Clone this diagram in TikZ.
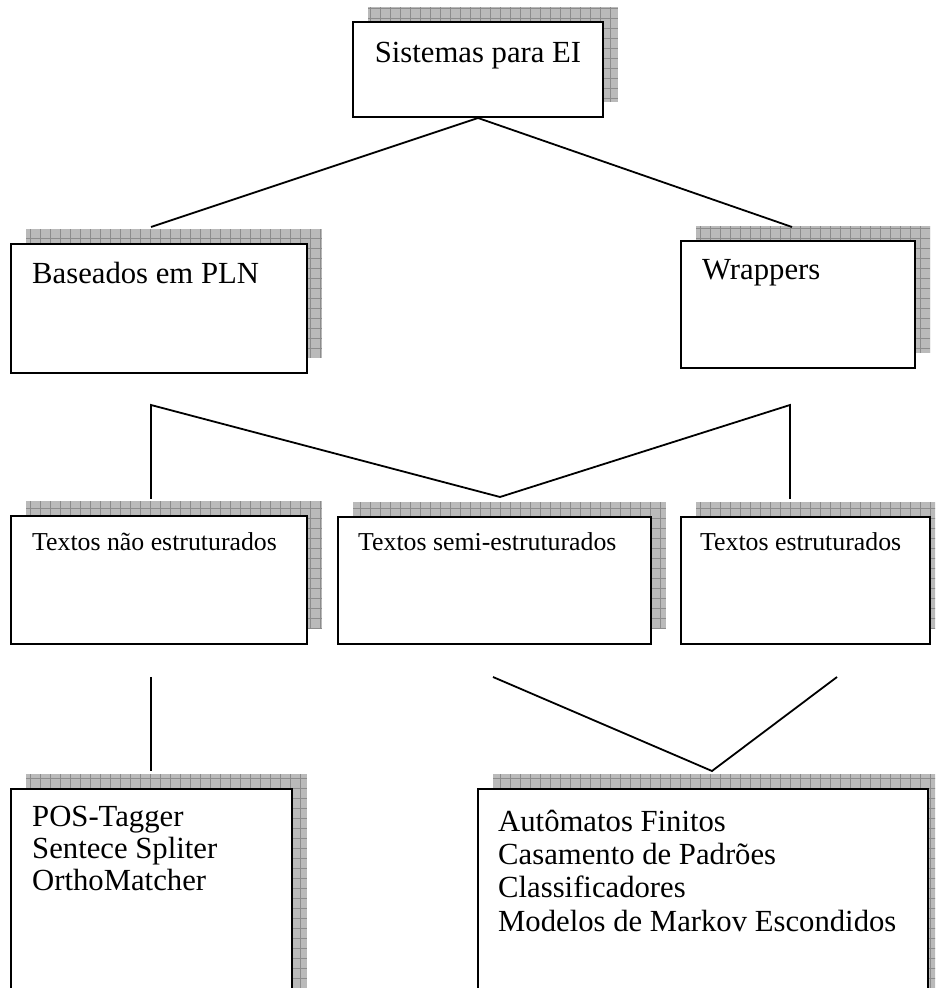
\documentclass[tikz,border=0pt]{standalone}
\usepackage{fontspec}
\setmainfont{Liberation Serif}
\usetikzlibrary{fit}

\tikzset{
  x=1pt, y=1pt,
  boxframe/.style={draw=black, line width=2.2pt, fill=white, inner sep=0pt},
  shadowfill/.style={fill=black!27},
  shadowgrid/.style={draw=black!45, line width=0.6pt},
  link/.style={draw=black, line width=1.8pt},
  big/.style={font=\fontsize{30.7}{33.5}\selectfont, inner sep=0pt, anchor=base west},
  mid/.style={font=\fontsize{25.8}{28}\selectfont, inner sep=0pt, anchor=base west},
}

% #1 name, (#2,#3) top left corner, (#4,#5) bottom right corner;
% a gridded grey shadow is laid 15pt up and to the right of the frame
\newcommand\gridshadowbox[5]{%
  \fill[shadowfill] (#2+15,#3+15) rectangle (#4+15,#5+15);
  \begin{scope}
    \clip (#2+15,#3+15) rectangle (#4+15,#5+15);
    \draw[shadowgrid] (#2+15,#3+15) grid[step=10pt] (#4+15,#5+15);
  \end{scope}
  \node[boxframe, fit={(#2,#3) (#4,#5)}] (#1) {};
}

\begin{document}
\begin{tikzpicture}
  \clip (0,0) rectangle (935,988);
  \fill[white] (0,0) rectangle (935,988);

  % frames
  \gridshadowbox{root}{353}{966}{603}{871}
  \gridshadowbox{pln}{11}{744}{307}{615}
  \gridshadowbox{wrap}{681}{747}{915}{620}
  \gridshadowbox{nonstr}{11}{472}{307}{344}
  \gridshadowbox{semistr}{338}{471}{651}{344}
  \gridshadowbox{struct}{681}{471}{930}{344}
  \gridshadowbox{plntools}{11}{199}{292}{-20}
  \gridshadowbox{wraptools}{478}{199}{928}{-20}

  % labels
  \node[big, anchor=base] (troot) at (478,925) {Sistemas para EI};
  \node[big] (tpln) at (32,704) {Baseados em PLN};
  \node[big] (twrap) at (702,708) {Wrappers};
  \node[mid] (tnon) at (32,437) {Textos não estruturados};
  \node[mid] (tsemi) at (358,437) {Textos semi-estruturados};
  \node[mid] (tstr) at (700,437) {Textos estruturados};
  \node[big] (pa) at (32,161) {POS-Tagger};
  \node[big] (pb) at (32,129) {Sentece Spliter};
  \node[big] (pc) at (32,97) {OrthoMatcher};
  \node[big] (wa) at (498,156) {Autômatos Finitos};
  \node[big] (wb) at (498,123) {Casamento de Padrões};
  \node[big] (wc) at (498,90) {Classificadores};
  \node[big] (wd) at (498,56) {Modelos de Markov Escondidos};

  % free ends of the connectors
  \coordinate (r0) at (478,870);
  \coordinate (r1) at (151,761);
  \coordinate (r2) at (792,761);
  \coordinate (m1) at (151,583);
  \coordinate (m2) at (790,583);
  \coordinate (m3) at (500,491);
  \coordinate (n1) at (151,489);
  \coordinate (n2) at (790,489);
  \coordinate (s1) at (151,311);
  \coordinate (s2) at (151,217);
  \coordinate (s3) at (493,311);
  \coordinate (s4) at (837,311);
  \coordinate (s5) at (712,217);

  % connectors
  \draw[link] (r1) -- (r0) -- (r2);
  \draw[link] (n1) -- (m1) -- (m3) -- (m2) -- (n2);
  \draw[link] (s1) -- (s2);
  \draw[link] (s3) -- (s5) -- (s4);
\end{tikzpicture}
\end{document}
